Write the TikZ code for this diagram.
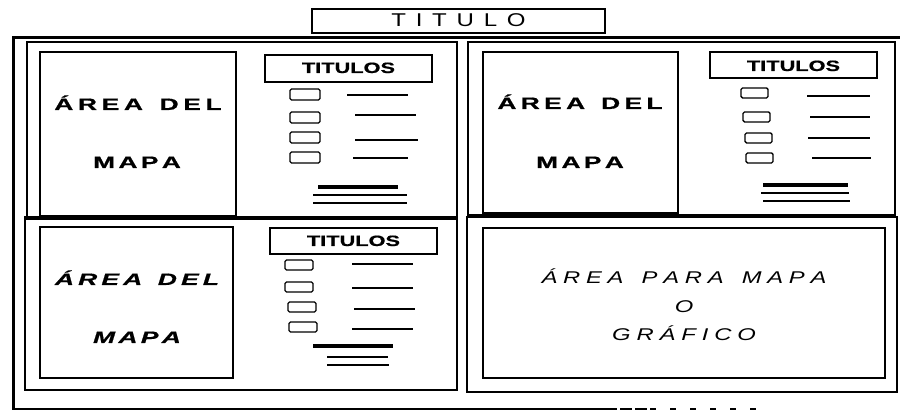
\documentclass[tikz,border=0pt]{standalone}
\usepackage{fontspec}
\usepackage{graphicx}
\setmainfont{Liberation Sans}
\newfontfamily\heavyfont[FakeBold=0.6]{Liberation Sans}
\makeatletter
\def\lsp#1#2{\def\lsp@k{#1}\lsp@b#2\relax\kern-\lsp@k}
\def\lsp@b#1{\ifx#1\relax\else#1\kern\lsp@k\expandafter\lsp@b\fi}
\makeatother
\newcommand\wsp[3]{\scalebox{#1}[1]{\lsp{#2}{#3}}}
\tikzset{
  frame/.style={line width=3pt},
  panel/.style={draw, line width=1.6pt},
  mapbox/.style={draw, line width=1.5pt},
  titbox/.style={draw, line width=1.4pt},
  legbox/.style={draw, line width=1.4pt, rounded corners=1.5pt},
  legline/.style={line width=1.2pt},
  thickline/.style={line width=3.2pt},
  thinline/.style={line width=1.5pt},
  bigtitle/.style={anchor=base, inner sep=0pt, font=\fontsize{18.5}{21}\selectfont},
  maptext/.style={anchor=base, inner sep=0pt, font=\heavyfont\bfseries\fontsize{16.5}{19}\selectfont},
  mapitext/.style={anchor=base, inner sep=0pt, font=\heavyfont\bfseries\itshape\fontsize{16.5}{19}\selectfont},
  areatext/.style={anchor=base, inner sep=0pt, font=\itshape\fontsize{17}{20}\selectfont},
  legtitle/.style={anchor=base, inner sep=0pt, font=\heavyfont\bfseries\fontsize{15}{17}\selectfont},
}
\begin{document}
\begin{tikzpicture}[x=1pt,y=-1pt]
\useasboundingbox[fill=white] (0,0) rectangle (900,411);
% outer frame
\coordinate (fTR) at (900,38);
\coordinate (fTL) at (13,38);
\coordinate (fBL) at (13,409);
\coordinate (fB1) at (605,409);
\coordinate (fB2) at (650,409);
\coordinate (fB3) at (760,409);
\draw[frame, line cap=rect] (fTR) -- (fTL) -- (fBL);
\draw[line width=1.5pt] (fBL) -- (fB1);
\draw[line width=1.5pt, dash pattern=on 12pt off 3pt] (fB1) -- (fB2);
\draw[line width=1.2pt, dash pattern=on 6pt off 14pt] (fB2) -- (fB3);
% title
\draw[titbox] (312,9) rectangle (605,33);
\node[bigtitle] (titulo) at (458.5,26.5) {\wsp{1.3}{7.5pt}{TITULO}};

% panels
\draw[panel] (27,42) rectangle (457,219);
\draw[panel] (25,217) rectangle (457,390);
\draw[panel] (468,42) rectangle (895,215);
\draw[panel] (467,217) rectangle (897,392);

% ---------- top-left ----------
\draw[mapbox] (40,52) rectangle (236,216);
\node[maptext] (tlA) at (138,110) {\wsp{1.6}{2.9pt}{ÁREA~DEL}};
\node[maptext] (tlM) at (137,168) {\wsp{1.6}{2.1pt}{MAPA}};
\draw[titbox] (265,55) rectangle (432,82);
\node[legtitle] (tlT) at (348.5,73) {\wsp{1.45}{0pt}{TITULOS}};
\draw[legbox] (290,89) rectangle (320,100);
\draw[legbox] (290,112) rectangle (320,123);
\draw[legbox] (290,132) rectangle (320,143);
\draw[legbox] (290,152) rectangle (320,163);
\draw[legline] (347,95) -- (408,95);
\draw[legline] (355,115) -- (416,115);
\draw[legline] (355,140) -- (418,140);
\draw[legline] (353,158) -- (408,158);
\draw[thickline] (318,187) -- (398,187);
\draw[thinline] (313,195) -- (407,195);
\draw[thinline] (313,203) -- (407,203);

% ---------- top-right ----------
\draw[mapbox] (483,52) rectangle (678,213);
\node[maptext] (trA) at (580,109) {\wsp{1.6}{2.7pt}{ÁREA~DEL}};
\node[maptext] (trM) at (580,168) {\wsp{1.6}{2.1pt}{MAPA}};
\draw[titbox] (710,52) rectangle (877,78);
\node[legtitle] (trT) at (793.5,71) {\wsp{1.45}{0pt}{TITULOS}};
\draw[legbox] (741,88) rectangle (768,98);
\draw[legbox] (743,112) rectangle (770,122);
\draw[legbox] (745,133) rectangle (772,143);
\draw[legbox] (746,153) rectangle (773,163);
\draw[legline] (807,96) -- (870,96);
\draw[legline] (810,117) -- (870,117);
\draw[legline] (808,138) -- (870,138);
\draw[legline] (812,158) -- (871,158);
\draw[thickline] (763,185) -- (848,185);
\draw[thinline] (761,193) -- (849,193);
\draw[thinline] (763,201) -- (850,201);

% ---------- bottom-left ----------
\draw[mapbox] (40,227) rectangle (233,378);
\node[mapitext] (blA) at (137,285) {\wsp{1.6}{2.6pt}{ÁREA~DEL}};
\node[mapitext] (blM) at (137,343) {\wsp{1.6}{2.1pt}{MAPA}};
\draw[titbox] (270,228) rectangle (437,254);
\node[legtitle] (blT) at (353.5,246) {\wsp{1.45}{0pt}{TITULOS}};
\draw[legbox] (285,260) rectangle (313,270);
\draw[legbox] (285,282) rectangle (313,292);
\draw[legbox] (288,302) rectangle (316,312);
\draw[legbox] (289,322) rectangle (317,332);
\draw[legline] (352,264) -- (413,264);
\draw[legline] (352,288) -- (413,288);
\draw[legline] (354,309) -- (415,309);
\draw[legline] (352,329) -- (413,329);
\draw[thickline] (313,346) -- (393,346);
\draw[thinline] (327,357) -- (388,357);
\draw[thinline] (327,365) -- (389,365);

% ---------- bottom-right ----------
\draw[mapbox] (483,228) rectangle (885,378);
\node[areatext] (brA) at (684,284) {\wsp{1.4}{4.1pt}{ÁREA~PARA~MAPA}};
\node[areatext] (brO) at (684,313) {\scalebox{1.4}[1]{O}};
\node[areatext] (brG) at (684,341) {\wsp{1.4}{4.2pt}{GRÁFICO}};
\end{tikzpicture}
\end{document}
